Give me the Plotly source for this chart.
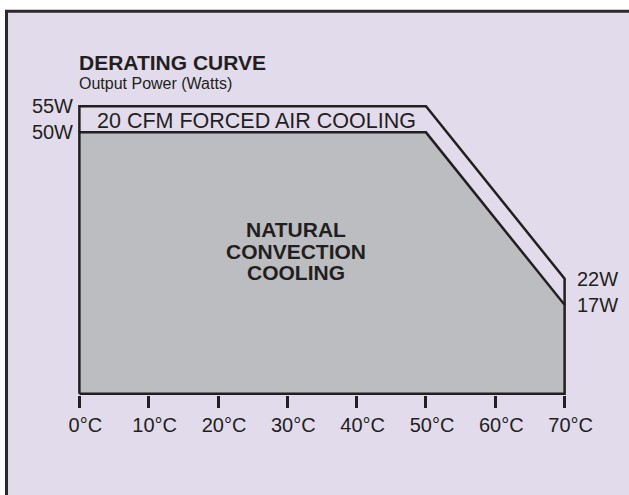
import plotly.graph_objects as go

# ---- data ----
temps_natural = [0, 0, 50, 70, 70, 0]
watts_natural = [0, 50, 50, 17, 0, 0]
temps_forced = [0, 0, 50, 70, 70]
watts_forced = [50, 55, 55, 22, 17]
x_tickvals = [0, 10, 20, 30, 40, 50, 60, 70]
x_ticktext = ["0°C", "10°C", "20°C", "30°C", "40°C", "50°C", "60°C", "70°C"]
y_left_vals = [55, 50]
y_left_text = ["55W", "50W"]
y_right_vals = [22, 17]
y_right_text = ["22W", "17W"]

DARK = "#231F20"
LAV = "#E2DBEB"
GRAY = "#BCBDC0"
FONT = "Liberation Sans, Arial, Helvetica, sans-serif"

fig = go.Figure()
fig.add_trace(go.Scatter(x=temps_natural, y=watts_natural, mode="lines",
                         fill="toself", fillcolor=GRAY,
                         line=dict(color=DARK, width=2.5), hoverinfo="skip",
                         showlegend=False))
fig.add_trace(go.Scatter(x=temps_forced, y=watts_forced, mode="lines",
                         line=dict(color=DARK, width=2.5), hoverinfo="skip",
                         showlegend=False))
# invisible trace to activate right axis
fig.add_trace(go.Scatter(x=[None], y=[None], yaxis="y2", showlegend=False))

fig.update_layout(
    width=629, height=495,
    margin=dict(l=77.6, r=62.6, t=100.8, b=99.7, pad=0),
    paper_bgcolor="white",
    plot_bgcolor="rgba(0,0,0,0)",
    font=dict(family=FONT, color=DARK, size=20),
    xaxis=dict(range=[-0.2, 70.2], tickvals=x_tickvals, ticktext=x_ticktext,
               ticks="outside", ticklen=12, tickwidth=2.5, tickcolor=DARK,
               showgrid=False, zeroline=False, showline=False,
               ticklabelshift=6,
               tickfont=dict(size=20, color=DARK), fixedrange=True),
    yaxis=dict(range=[-0.25, 56], tickvals=y_left_vals, ticktext=y_left_text,
               ticks="", showgrid=False, zeroline=False, showline=False,
               ticklabelstandoff=4,
               tickfont=dict(size=20, color=DARK), fixedrange=True),
    yaxis2=dict(range=[-0.25, 56], overlaying="y", side="right",
                tickvals=y_right_vals, ticktext=y_right_text,
                ticks="", showgrid=False, zeroline=False, showline=False,
                ticklabelstandoff=10,
                tickfont=dict(size=20, color=DARK), fixedrange=True),
    shapes=[dict(type="rect", xref="paper", yref="paper",
                 x0=-0.1465, x1=1.3, y0=-0.5, y1=1.305,
                 fillcolor=LAV, line=dict(color="#2a2a2a", width=3),
                 layer="below")],
    annotations=[
        dict(text="<b>DERATING CURVE</b>", xref="paper", yref="paper",
             x=-0.002, y=1.131, xanchor="left", yanchor="middle",
             showarrow=False, font=dict(size=21, color=DARK)),
        dict(text="Output Power (Watts)", xref="paper", yref="paper",
             x=-0.002, y=1.059, xanchor="left", yanchor="middle",
             showarrow=False, font=dict(size=16, color=DARK)),
        dict(text="20 CFM FORCED AIR COOLING", xref="x", yref="y",
             x=2.2, y=52.1, xanchor="left", yanchor="middle",
             showarrow=False, font=dict(size=21.5, color=DARK)),
        dict(text="<b>NATURAL</b>", xref="x", yref="y", x=31.2, y=31.4,
             xanchor="center", yanchor="middle", showarrow=False,
             font=dict(size=21, color=DARK)),
        dict(text="<b>CONVECTION</b>", xref="x", yref="y", x=31.2, y=27.3,
             xanchor="center", yanchor="middle", showarrow=False,
             font=dict(size=21, color=DARK)),
        dict(text="<b>COOLING</b>", xref="x", yref="y", x=31.2, y=23.1,
             xanchor="center", yanchor="middle", showarrow=False,
             font=dict(size=21, color=DARK)),
    ],
)

fig.write_html("out.html",
               config={"displayModeBar": False},
               post_script="document.body.style.margin='0';"
                           "document.body.style.padding='0';")
